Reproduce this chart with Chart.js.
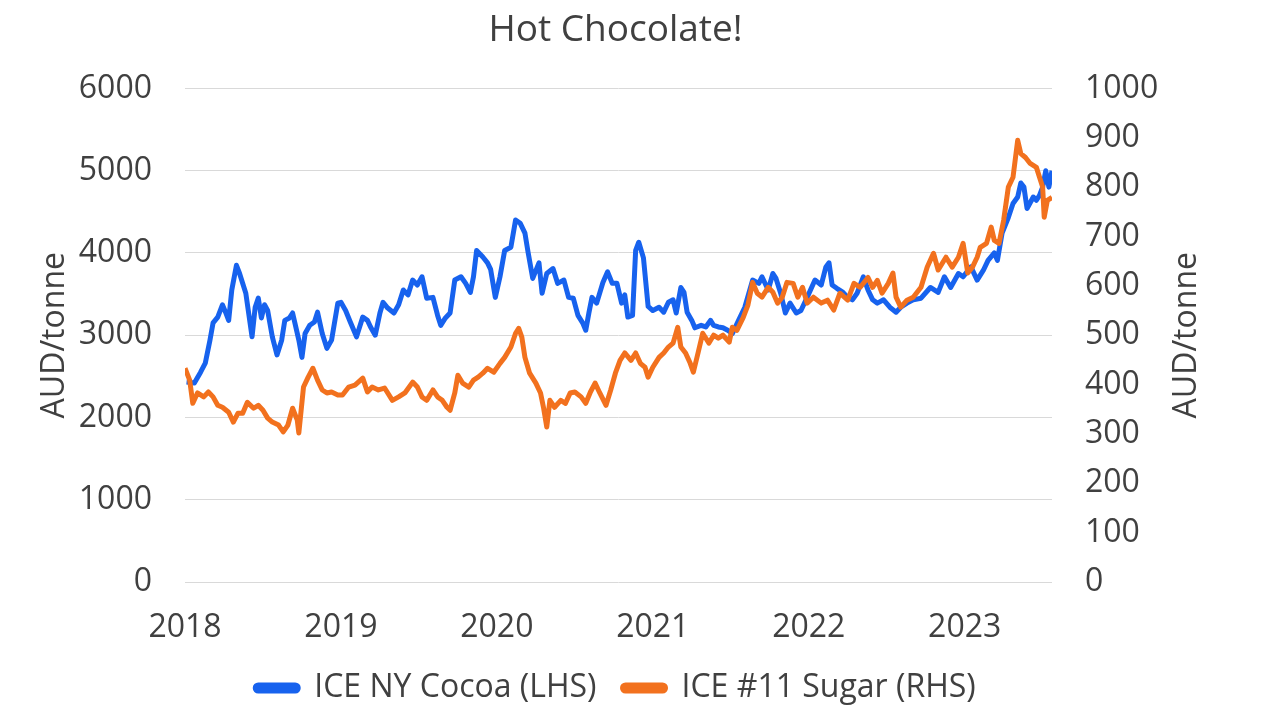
<!DOCTYPE html>
<html>
<head>
    <title>Hot Chocolate!</title>
    <script src="https://cdn.jsdelivr.net/npm/chart.js"></script>
    <style>
        html, body {
            margin: 0;
            padding: 0;
            background: #fff;
        }
    </style>
</head>
<body>
    <canvas id="chocChart" width="1280" height="721"></canvas>

    <script>
        // ICE NY Cocoa, AUD/tonne (left axis) - dates as decimal years
        var cocoaDates = [
            2018.01, 2018.06, 2018.10, 2018.13, 2018.16, 2018.18, 2018.21, 2018.24, 2018.26, 2018.28,
            2018.30, 2018.33, 2018.35, 2018.39, 2018.43, 2018.45, 2018.47, 2018.49, 2018.51, 2018.53,
            2018.56, 2018.59, 2018.62, 2018.64, 2018.67, 2018.69, 2018.73, 2018.75, 2018.77, 2018.80,
            2018.83, 2018.85, 2018.88, 2018.91, 2018.94, 2018.98,
            2019.00, 2019.03, 2019.06, 2019.10, 2019.14, 2019.17, 2019.19, 2019.22, 2019.25, 2019.27,
            2019.30, 2019.34, 2019.37, 2019.40, 2019.43, 2019.46, 2019.49, 2019.52, 2019.55, 2019.59,
            2019.62, 2019.64, 2019.67, 2019.70, 2019.73, 2019.77, 2019.80, 2019.83, 2019.85, 2019.87,
            2019.91, 2019.94, 2019.96, 2019.99,
            2020.02, 2020.05, 2020.09, 2020.12, 2020.15, 2020.18, 2020.20, 2020.23, 2020.27, 2020.29,
            2020.32, 2020.36, 2020.39, 2020.43, 2020.46, 2020.49, 2020.52, 2020.55, 2020.57, 2020.59,
            2020.61, 2020.64, 2020.68, 2020.71, 2020.74, 2020.77, 2020.80, 2020.82, 2020.84, 2020.87,
            2020.89, 2020.91, 2020.94, 2020.97,
            2021.00, 2021.04, 2021.07, 2021.10, 2021.13, 2021.15, 2021.18, 2021.20, 2021.22, 2021.25,
            2021.27, 2021.31, 2021.34, 2021.37, 2021.39, 2021.42, 2021.45, 2021.48, 2021.51, 2021.55,
            2021.59, 2021.64, 2021.68, 2021.70, 2021.74, 2021.77, 2021.79, 2021.82, 2021.85, 2021.88,
            2021.92, 2021.95, 2021.99,
            2022.04, 2022.08, 2022.11, 2022.13, 2022.15, 2022.18, 2022.22, 2022.25, 2022.28, 2022.31,
            2022.35, 2022.38, 2022.41, 2022.44, 2022.48, 2022.52, 2022.56, 2022.59, 2022.63, 2022.67,
            2022.72, 2022.78, 2022.83, 2022.87, 2022.91, 2022.96, 2022.99,
            2023.04, 2023.08, 2023.12, 2023.15, 2023.19, 2023.21, 2023.24, 2023.28, 2023.31, 2023.34,
            2023.36, 2023.38, 2023.40, 2023.44, 2023.46, 2023.48, 2023.50, 2023.52, 2023.54, 2023.56
        ];
        var cocoaPrices = [
            2430, 2420, 2550, 2660, 2940, 3150, 3220, 3370, 3280, 3180,
            3550, 3850, 3750, 3510, 2980, 3340, 3450, 3210, 3370, 3300,
            2980, 2760, 2940, 3180, 3210, 3270, 2940, 2730, 3020, 3120,
            3160, 3280, 3020, 2840, 2940, 3390,
            3400, 3300, 3160, 2980, 3220, 3180, 3100, 3000, 3270, 3400,
            3330, 3270, 3370, 3550, 3490, 3670, 3610, 3710, 3450, 3460,
            3240, 3120, 3210, 3270, 3670, 3710, 3630, 3520, 3710, 4030,
            3950, 3880, 3800, 3460,
            3710, 4030, 4070, 4400, 4360, 4240, 4010, 3690, 3880, 3510,
            3750, 3810, 3630, 3670, 3460, 3450, 3240, 3150, 3060, 3270,
            3460, 3390, 3640, 3770, 3630, 3630, 3390, 3490, 3220, 3240,
            4030, 4130, 3940, 3350,
            3300, 3340, 3280, 3400, 3430, 3270, 3580, 3520, 3280, 3180,
            3090, 3120, 3100, 3180, 3120, 3100, 3090, 3060, 3020, 3180,
            3340, 3670, 3630, 3710, 3550, 3750, 3690, 3510, 3270, 3390,
            3270, 3300, 3460,
            3670, 3610, 3830, 3880, 3610, 3570, 3520, 3460, 3430, 3510,
            3710, 3550, 3430, 3390, 3430, 3340, 3280, 3340, 3390, 3430,
            3450, 3580, 3520, 3710, 3580, 3750, 3710,
            3830, 3670, 3790, 3910, 4000, 3910, 4240, 4430, 4600, 4680,
            4850, 4800, 4540, 4680, 4640, 4700, 4800, 5000, 4800, 5000
        ];

        // ICE #11 Sugar, AUD/tonne (right axis)
        var sugarDates = [
            2018.00, 2018.03, 2018.05, 2018.08, 2018.12, 2018.15, 2018.18, 2018.21, 2018.24, 2018.28,
            2018.31, 2018.34, 2018.37, 2018.40, 2018.44, 2018.47, 2018.50, 2018.53, 2018.56, 2018.60,
            2018.63, 2018.66, 2018.69, 2018.72, 2018.73, 2018.76, 2018.79, 2018.82, 2018.85, 2018.88,
            2018.91, 2018.94, 2018.98,
            2019.01, 2019.05, 2019.09, 2019.14, 2019.17, 2019.20, 2019.24, 2019.28, 2019.33, 2019.37,
            2019.41, 2019.46, 2019.49, 2019.52, 2019.55, 2019.59, 2019.62, 2019.65, 2019.68, 2019.70,
            2019.73, 2019.75, 2019.78, 2019.82, 2019.85, 2019.88, 2019.91, 2019.94, 2019.98,
            2020.02, 2020.05, 2020.09, 2020.12, 2020.14, 2020.16, 2020.18, 2020.21, 2020.25, 2020.28,
            2020.30, 2020.32, 2020.34, 2020.37, 2020.41, 2020.44, 2020.47, 2020.50, 2020.54, 2020.57,
            2020.60, 2020.63, 2020.66, 2020.70, 2020.73, 2020.76, 2020.79, 2020.82, 2020.86, 2020.89,
            2020.92, 2020.95, 2020.97,
            2021.00, 2021.04, 2021.07, 2021.10, 2021.13, 2021.16, 2021.18, 2021.21, 2021.24, 2021.26,
            2021.29, 2021.32, 2021.36, 2021.39, 2021.42, 2021.45, 2021.49, 2021.51, 2021.54, 2021.58,
            2021.61, 2021.64, 2021.67, 2021.70, 2021.74, 2021.77, 2021.80, 2021.83, 2021.86, 2021.90,
            2021.93, 2021.96, 2021.99,
            2022.03, 2022.08, 2022.12, 2022.16, 2022.20, 2022.25, 2022.29, 2022.33, 2022.38, 2022.41,
            2022.44, 2022.47, 2022.51, 2022.54, 2022.56, 2022.59, 2022.63, 2022.67, 2022.72, 2022.76,
            2022.80, 2022.83, 2022.88, 2022.92, 2022.96, 2022.99,
            2023.02, 2023.05, 2023.08, 2023.10, 2023.14, 2023.17, 2023.19, 2023.22, 2023.25, 2023.28,
            2023.31, 2023.34, 2023.36, 2023.39, 2023.42, 2023.46, 2023.48, 2023.50, 2023.51, 2023.53,
            2023.56
        ];
        var sugarPrices = [
            433, 409, 362, 383, 375, 385, 375, 358, 354, 344,
            324, 342, 342, 364, 352, 358, 348, 332, 324, 318,
            304, 318, 352, 328, 302, 395, 415, 433, 409, 389,
            383, 385, 379,
            379, 395, 399, 413, 385, 395, 389, 393, 368, 375,
            383, 405, 395, 375, 368, 389, 375, 368, 354, 348,
            383, 419, 403, 395, 409, 415, 423, 433, 425,
            443, 455, 476, 504, 514, 496, 455, 423, 403, 383,
            352, 314, 368, 354, 368, 362, 383, 385, 375, 362,
            385, 403, 383, 358, 389, 423, 449, 464, 449, 464,
            443, 435, 415,
            435, 455, 464, 476, 484, 516, 476, 464, 443, 425,
            464, 504, 484, 500, 494, 500, 486, 516, 510, 536,
            561, 607, 585, 577, 597, 587, 565, 577, 607, 605,
            577, 597, 565,
            577, 565, 571, 551, 585, 571, 605, 597, 617, 597,
            611, 585, 605, 626, 577, 557, 571, 577, 597, 638,
            666, 632, 658, 638, 658, 686,
            626, 638, 658, 678, 686, 719, 692, 686, 733, 800,
            820, 895, 868, 860, 848, 840, 820, 800, 739, 773,
            779
        ];

        var yearTicks = [2018, 2019, 2020, 2021, 2022, 2023];
        var chartTitle = 'Hot Chocolate!';
        var axisTitle = 'AUD/tonne';
        var seriesNames = ['ICE NY Cocoa (LHS)', 'ICE #11 Sugar (RHS)'];

        var BLUE = '#1762ee';
        var ORANGE = '#f2711e';
        var TEXT = '#404040';

        function toPoints(xs, ys) {
            return xs.map(function (x, i) { return { x: x, y: ys[i] }; });
        }

        Chart.defaults.font.family = "'Open Sans', sans-serif";
        Chart.defaults.color = TEXT;

        // right axis title reads bottom-to-top like the left one
        var rightTitlePlugin = {
            id: 'rightTitle',
            afterDraw: function (chart) {
                var s = chart.scales.y1;
                var ctx = chart.ctx;
                ctx.save();
                ctx.translate(s.right - 19, (s.top + s.bottom) / 2);
                ctx.rotate(-Math.PI / 2);
                ctx.font = "32px 'Open Sans'";
                ctx.fillStyle = TEXT;
                ctx.textAlign = 'center';
                ctx.textBaseline = 'middle';
                ctx.fillText(axisTitle, 0, 0);
                ctx.restore();
            }
        };

        new Chart(document.getElementById('chocChart'), {
            type: 'line',
            data: {
                datasets: [{
                    label: seriesNames[0],
                    data: toPoints(cocoaDates, cocoaPrices),
                    borderColor: BLUE,
                    backgroundColor: BLUE,
                    borderWidth: 5,
                    borderJoinStyle: 'round',
                    pointRadius: 0,
                    yAxisID: 'y',
                    order: 1
                }, {
                    label: seriesNames[1],
                    data: toPoints(sugarDates, sugarPrices),
                    borderColor: ORANGE,
                    backgroundColor: ORANGE,
                    borderWidth: 5,
                    borderJoinStyle: 'round',
                    pointRadius: 0,
                    yAxisID: 'y1',
                    order: 0
                }]
            },
            options: {
                responsive: false,
                animation: false,
                layout: {
                    padding: { left: 25, right: 74, top: 0, bottom: 7 }
                },
                plugins: {
                    title: {
                        display: true,
                        text: chartTitle,
                        color: TEXT,
                        font: { size: 37, weight: 'normal' },
                        padding: { top: 8, bottom: 36 }
                    },
                    legend: {
                        position: 'bottom',
                        labels: {
                            boxWidth: 43,
                            boxHeight: 6,
                            useBorderRadius: true,
                            borderRadius: 3,
                            padding: 26,
                            color: TEXT,
                            font: { size: 32 },
                            sort: function (a, b) { return a.datasetIndex - b.datasetIndex; }
                        }
                    },
                    tooltip: { enabled: false }
                },
                scales: {
                    x: {
                        type: 'linear',
                        min: yearTicks[0],
                        max: 2023.56,
                        grid: { display: false, drawTicks: false },
                        border: { display: false },
                        afterBuildTicks: function (scale) {
                            scale.ticks = yearTicks.map(function (v) { return { value: v }; });
                        },
                        ticks: {
                            padding: 27,
                            maxRotation: 0,
                            autoSkip: false,
                            font: { size: 32 },
                            callback: function (v) { return String(v); }
                        },
                        afterFit: function (scale) { scale.height = 64; }
                    },
                    y: {
                        position: 'left',
                        min: 0,
                        max: 6000,
                        grid: { color: '#d9d9d9', lineWidth: 1, drawTicks: false },
                        border: { display: false },
                        ticks: {
                            stepSize: 1000,
                            padding: 33,
                            font: { size: 32 },
                            callback: function (v) { return String(v); }
                        },
                        title: {
                            display: true,
                            text: axisTitle,
                            font: { size: 32 },
                            padding: { top: 11, bottom: 0 }
                        },
                        afterFit: function (scale) { scale.width = 160; }
                    },
                    y1: {
                        position: 'right',
                        min: 0,
                        max: 1000,
                        grid: { display: false, drawTicks: false },
                        border: { display: false },
                        ticks: {
                            stepSize: 100,
                            padding: 33,
                            font: { size: 32 },
                            callback: function (v) { return String(v); }
                        },
                        afterFit: function (scale) { scale.width = 154; }
                    }
                }
            },
            plugins: [rightTitlePlugin]
        });
    </script>
</body>
</html>
